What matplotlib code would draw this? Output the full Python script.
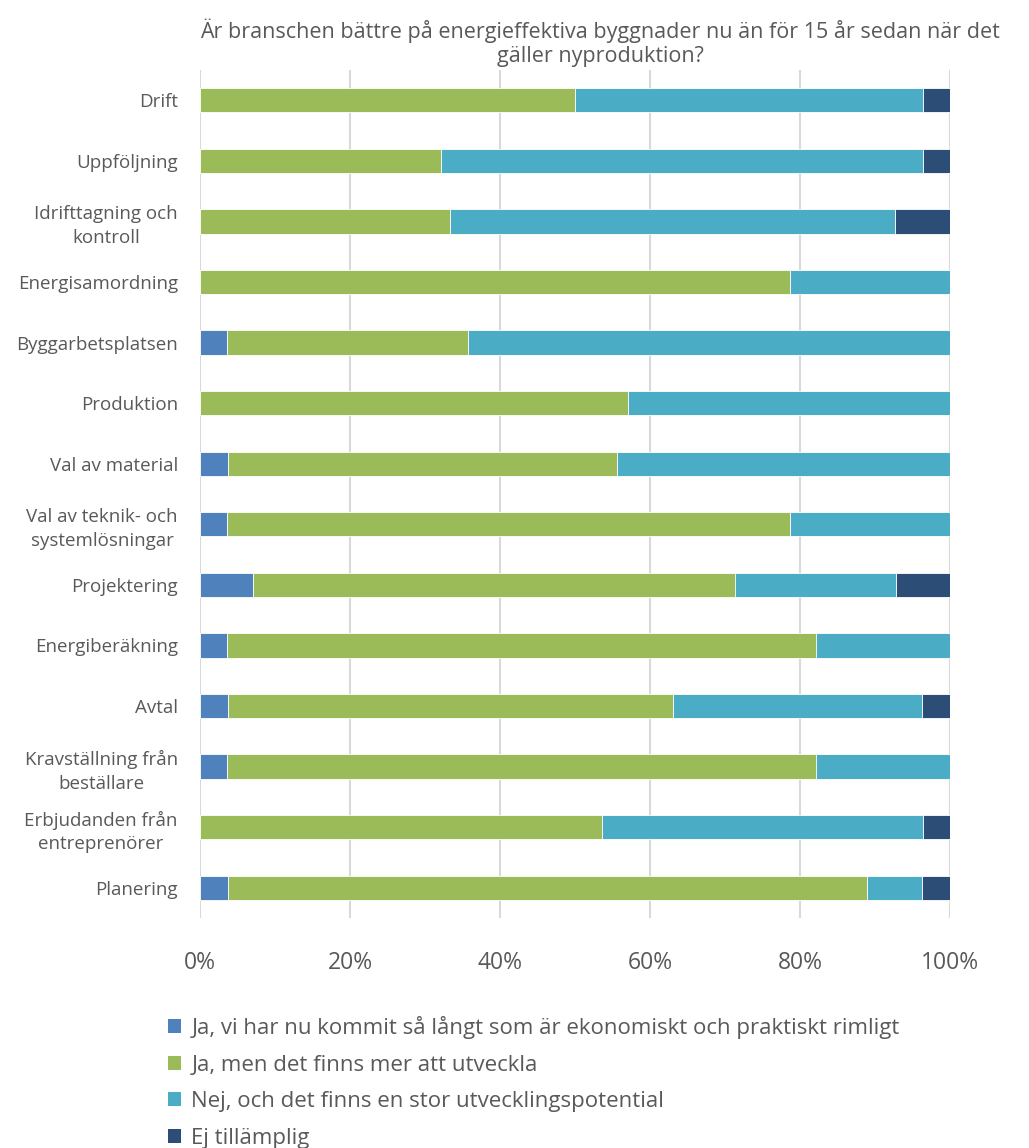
import matplotlib
matplotlib.use("Agg")
import matplotlib.pyplot as plt
from matplotlib.patches import Patch
import numpy as np

plt.rcParams['font.family'] = ['Open Sans', 'DejaVu Sans']

categories = ["Drift", "Uppföljning", "Idrifttagning och\nkontroll", "Energisamordning",
              "Byggarbetsplatsen", "Produktion", "Val av material",
              "Val av teknik- och\nsystemlösningar", "Projektering", "Energiberäkning",
              "Avtal", "Kravställning från\nbeställare", "Erbjudanden från\nentreprenörer",
              "Planering"]

ja_rimligt = [0.0, 0.0, 0.0, 0.0, 3.6, 0.0, 3.7, 3.6, 7.1, 3.6, 3.7, 3.6, 0.0, 3.7]
ja_utveckla = [50.0, 32.1, 33.3, 78.6, 32.1, 57.1, 51.9, 75.0, 64.3, 78.6, 59.3, 78.6, 53.6, 85.2]
nej = [46.4, 64.3, 59.3, 21.4, 64.3, 42.9, 44.4, 21.4, 21.4, 17.8, 33.3, 17.8, 42.8, 7.4]
ej = [3.6, 3.6, 7.4, 0.0, 0.0, 0.0, 0.0, 0.0, 7.2, 0.0, 3.7, 0.0, 3.6, 3.7]

series_names = ["Ja, vi har nu kommit så långt som är ekonomiskt och praktiskt rimligt",
                "Ja, men det finns mer att utveckla",
                "Nej, och det finns en stor utvecklingspotential",
                "Ej tillämplig"]
colors = ["#4F81BD", "#9BBB59", "#4BACC6", "#2C4D75"]
xticks = [0, 20, 40, 60, 80, 100]
xticklabels = ["0%", "20%", "40%", "60%", "80%", "100%"]
title = "Är branschen bättre på energieffektiva byggnader nu än för 15 år sedan när det\ngäller nyproduktion?"

fig = plt.figure(figsize=(10.29, 11.48), dpi=100)
ax = fig.add_axes([200/1029, 1-918/1148, 750/1029, (918-70)/1148])

y = np.arange(len(categories))
left = np.zeros(len(categories))
for vals, name, c in zip([ja_rimligt, ja_utveckla, nej, ej], series_names, colors):
    vals = np.array(vals)
    ax.barh(y, vals, left=left, height=0.4, color=c, edgecolor="white", linewidth=0.6, label=name, zorder=3)
    left += vals

ax.set_ylim(len(categories) - 0.5, -0.5)
ax.set_xlim(0, 100)
ax.set_yticks(y)
ax.set_yticklabels(categories, fontsize=13.5, color="#595959", multialignment="center",
                   linespacing=1.4)
ax.set_xticks(xticks)
ax.set_xticklabels(xticklabels, fontsize=16.5, color="#595959")
ax.tick_params(axis="both", length=0)
ax.tick_params(axis="x", pad=24)
ax.tick_params(axis="y", pad=16)
for s in ax.spines.values():
    s.set_visible(False)
ax.grid(axis="x", color="#D9D9D9", linewidth=1.5, zorder=0)
ax.set_axisbelow(True)

fig.text(600/1029, 1-43/1148, title, ha="center", va="center", fontsize=15.5,
         color="#595959", linespacing=1.2)

handles = [Patch(facecolor=c, edgecolor="none") for c in colors]
fig.legend(handles, series_names, loc="upper left", bbox_to_anchor=(157/1029, 1-1005/1148),
           frameon=False, fontsize=16, labelcolor="#595959", handlelength=0.6, handleheight=0.6,
           handletextpad=0.45, labelspacing=0.7, borderpad=0)

fig.savefig("out.png", dpi=100, facecolor="white")
